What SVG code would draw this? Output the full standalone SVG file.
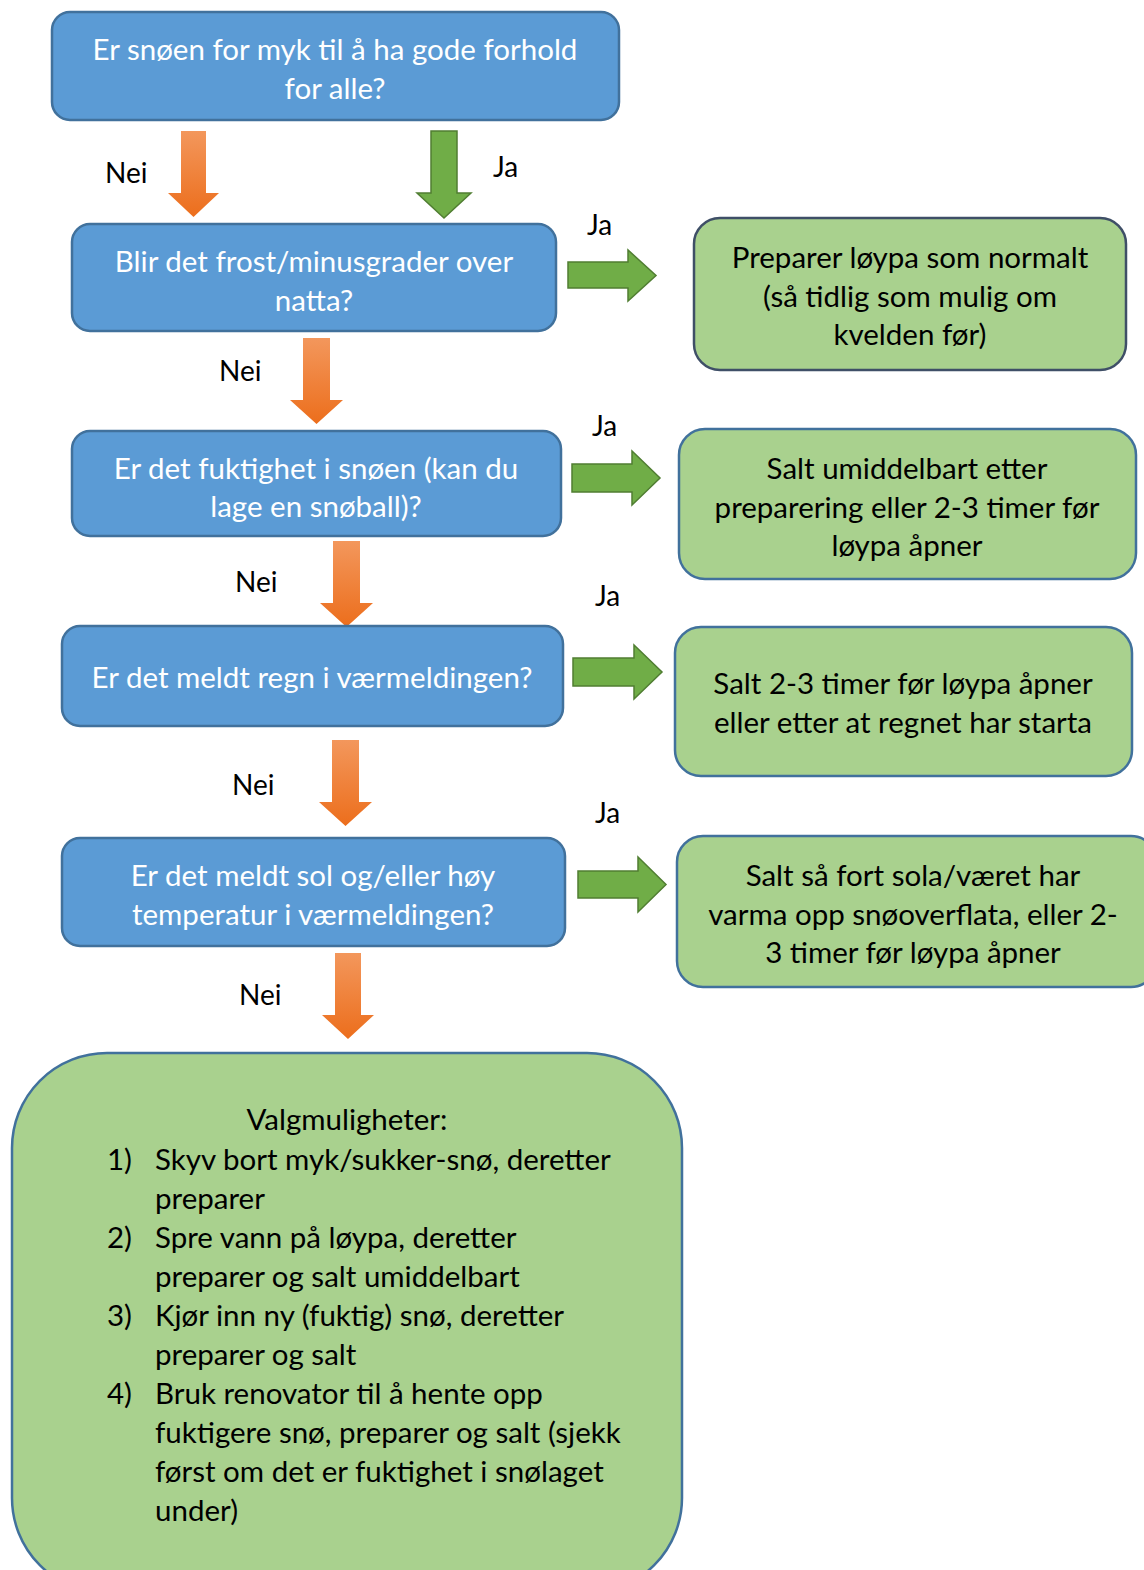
<svg xmlns="http://www.w3.org/2000/svg" width="1144" height="1570" viewBox="0 0 1144 1570">
<style>
.q{fill:#5B9BD5;stroke:#41719C;stroke-width:2.5}
.a{fill:#A9D18E;stroke:#41719C;stroke-width:2.5}
.a2{fill:#A9D18E;stroke:#3F4F67;stroke-width:2.5}
.wt{font-family:Lato,"Open Sans",sans-serif;font-size:29.5px;fill:#fff;text-anchor:middle}
.bt{font-family:Lato,"Open Sans",sans-serif;font-size:29.5px;fill:#000;text-anchor:middle}
.lt{font-family:Lato,"Open Sans",sans-serif;font-size:29.5px;fill:#000}
.lab{font-family:Lato,"Open Sans",sans-serif;font-size:28px;fill:#000}
.ga{fill:#70AD47;stroke:#507E32;stroke-width:1.5}
.oa{fill:url(#og)}
</style>
<defs>
<linearGradient id="og" x1="0" y1="0" x2="0" y2="1">
<stop offset="0" stop-color="#F3975C"/>
<stop offset="1" stop-color="#EC6E1C"/>
</linearGradient>
</defs>
<g id="connectors">
<path class="oa" d="M181,131 H206 V193 H219 L193.5,217 L168,193 H181 Z"/>
<path class="ga" d="M431,131 H457 V193 H471 L444,218 L417,193 H431 Z"/>
<path class="ga" d="M568,262 H628 V250 L656,275.5 L628,301 V288 H568 Z"/>
<path class="oa" d="M303,338 H330 V400 H343 L316.5,424 L290,400 H303 Z"/>
<path class="ga" d="M572,464 H632 V451 L660,478 L632,505 V492 H572 Z"/>
<path class="oa" d="M333,541 H360 V603 H373 L346.5,627 L320,603 H333 Z"/>
<path class="ga" d="M573,658 H634 V645 L662,672 L634,699 V686 H573 Z"/>
<path class="oa" d="M332,740 H359 V802 H372 L345.5,826 L319,802 H332 Z"/>
<path class="ga" d="M578,871 H638 V857 L666,884.5 L638,912 V898 H578 Z"/>
<path class="oa" d="M335,953 H361 V1015 H374 L348,1039 L322,1015 H335 Z"/>
<text class="lab" x="105" y="183">Nei</text>
<text class="lab" x="493" y="177">Ja</text>
<text class="lab" x="587" y="235">Ja</text>
<text class="lab" x="219" y="381">Nei</text>
<text class="lab" x="592" y="436">Ja</text>
<text class="lab" x="235" y="592">Nei</text>
<text class="lab" x="595" y="606">Ja</text>
<text class="lab" x="232" y="795">Nei</text>
<text class="lab" x="595" y="823">Ja</text>
<text class="lab" x="239" y="1005">Nei</text>
</g>
<g id="q1"><rect class="q" x="52" y="12" width="567" height="108" rx="18"/>
<text class="wt" x="335" y="60">Er snøen for myk til å ha gode forhold</text>
<text class="wt" x="335" y="99">for alle?</text></g>
<g id="q2"><rect class="q" x="72" y="224" width="484" height="107" rx="18"/>
<text class="wt" x="314" y="272">Blir det frost/minusgrader over</text>
<text class="wt" x="314" y="311">natta?</text></g>
<g id="a1"><rect class="a2" x="694" y="218" width="432" height="152" rx="26"/>
<text class="bt" x="910" y="268">Preparer løypa som normalt</text>
<text class="bt" x="910" y="307">(så tidlig som mulig om</text>
<text class="bt" x="910" y="345">kvelden før)</text></g>
<g id="q3"><rect class="q" x="72" y="431" width="489" height="105" rx="18"/>
<text class="wt" x="316" y="479">Er det fuktighet i snøen (kan du</text>
<text class="wt" x="316" y="517">lage en snøball)?</text></g>
<g id="a2"><rect class="a" x="679" y="429" width="457" height="150" rx="26"/>
<text class="bt" x="907" y="479">Salt umiddelbart etter</text>
<text class="bt" x="907" y="518">preparering eller 2-3 timer før</text>
<text class="bt" x="907" y="556">løypa åpner</text></g>
<g id="q4"><rect class="q" x="62" y="626" width="501" height="100" rx="18"/>
<text class="wt" x="312" y="688">Er det meldt regn i værmeldingen?</text></g>
<g id="a3"><rect class="a" x="675" y="627" width="457" height="149" rx="26"/>
<text class="bt" x="903" y="694">Salt 2-3 timer før løypa åpner</text>
<text class="bt" x="903" y="733">eller etter at regnet har starta</text></g>
<g id="q5"><rect class="q" x="62" y="838" width="503" height="108" rx="18"/>
<text class="wt" x="313" y="886">Er det meldt sol og/eller høy</text>
<text class="wt" x="313" y="925">temperatur i værmeldingen?</text></g>
<g id="a4"><rect class="a" x="677" y="836" width="480" height="151" rx="26"/>
<text class="bt" x="913" y="886">Salt så fort sola/været har</text>
<text class="bt" x="913" y="925">varma opp snøoverflata, eller 2-</text>
<text class="bt" x="913" y="963">3 timer før løypa åpner</text></g>
<g id="opts"><rect class="a" x="12" y="1053" width="670" height="540" rx="95"/>
<text class="bt" x="347" y="1130">Valgmuligheter:</text>
<text class="lt" x="107" y="1170">1)</text>
<text class="lt" x="155" y="1170">Skyv bort myk/sukker-snø, deretter</text>
<text class="lt" x="155" y="1209">preparer</text>
<text class="lt" x="107" y="1248">2)</text>
<text class="lt" x="155" y="1248">Spre vann på løypa, deretter</text>
<text class="lt" x="155" y="1287">preparer og salt umiddelbart</text>
<text class="lt" x="107" y="1326">3)</text>
<text class="lt" x="155" y="1326">Kjør inn ny (fuktig) snø, deretter</text>
<text class="lt" x="155" y="1365">preparer og salt</text>
<text class="lt" x="107" y="1404">4)</text>
<text class="lt" x="155" y="1404">Bruk renovator til å hente opp</text>
<text class="lt" x="155" y="1443">fuktigere snø, preparer og salt (sjekk</text>
<text class="lt" x="155" y="1482">først om det er fuktighet i snølaget</text>
<text class="lt" x="155" y="1521">under)</text></g>
</svg>
